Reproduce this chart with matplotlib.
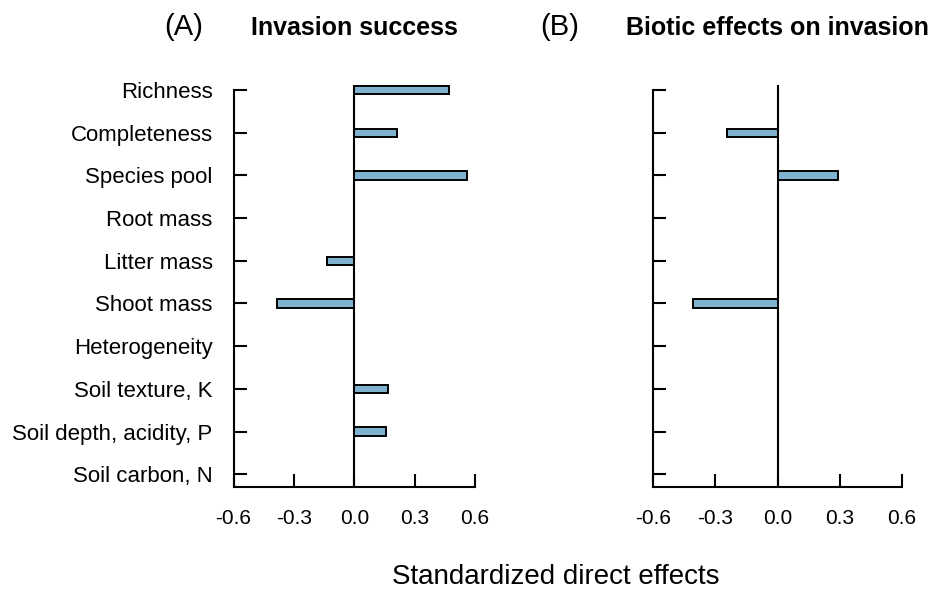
import matplotlib
matplotlib.use("Agg")
import matplotlib.pyplot as plt
import numpy as np

plt.rcParams['font.family'] = ['Liberation Sans', 'DejaVu Sans']
plt.rcParams['axes.unicode_minus'] = False

# predictors, top to bottom
predictors = ['Richness', 'Completeness', 'Species pool', 'Root mass', 'Litter mass',
              'Shoot mass', 'Heterogeneity', 'Soil texture, K',
              'Soil depth, acidity, P', 'Soil carbon, N']

# standardized direct effects
invasion_success = [0.47, 0.21, 0.56, 0.0, -0.135, -0.385, 0.0, 0.167, 0.157, 0.0]
biotic_effects = [0.0, -0.245, 0.29, 0.0, 0.0, -0.41, 0.0, 0.0, 0.0, 0.0]

xticks = [-0.6, -0.3, 0.0, 0.3, 0.6]
xticklabels = ['-0.6', '-0.3', '0.0', '0.3', '0.6']

panels = [('(A)', 'Invasion success', invasion_success),
          ('(B)', 'Biotic effects on invasion', biotic_effects)]

W, H = 938, 593
fig = plt.figure(figsize=(W / 100, H / 100), dpi=100)

lefts = [233.5, 653.3]
rights = [475.0, 901.7]
top_px, bottom_px = 85, 487

ypos = np.arange(len(predictors))[::-1]
bar_color = '#7fb2cf'

for i, (tag, title, vals) in enumerate(panels):
    ax = fig.add_axes([lefts[i] / W, (H - bottom_px) / H,
                       (rights[i] - lefts[i]) / W, (bottom_px - top_px) / H])
    ax.barh(ypos, vals, height=0.2, color=bar_color, edgecolor='black',
            linewidth=1.4, zorder=2)
    ax.axvline(0, color='black', linewidth=1.5, zorder=3)
    ax.set_xlim(-0.6, 0.6)
    ax.set_ylim(-0.3, 9.12)
    ax.set_xticks(xticks)
    ax.set_xticklabels(xticklabels)
    ax.set_yticks(ypos)
    if i == 0:
        ax.set_yticklabels(predictors)
    else:
        ax.set_yticklabels([])
    for s in ['top', 'right']:
        ax.spines[s].set_visible(False)
    for s in ['left', 'bottom']:
        ax.spines[s].set_linewidth(1.5)
    ax.spines['left'].set_bounds(-0.3, 9)
    ax.tick_params(axis='both', direction='in', length=9.5, width=1.5)
    ax.tick_params(axis='x', pad=16, labelsize=15)
    ax.tick_params(axis='y', pad=15, labelsize=16)

    cx = (lefts[i] + rights[i]) / 2
    fig.text((cx) / W, 1 - 35 / H, title, ha='center', va='baseline',
             fontsize=18, fontweight='bold')
    tag_x = [184, 560][i]
    fig.text(tag_x / W, 1 - 35 / H, tag, ha='center', va='baseline',
             fontsize=21)

fig.text(556 / W, 1 - 584 / H, 'Standardized direct effects', ha='center',
         va='baseline', fontsize=20)

fig.savefig('out.png', dpi=100)
